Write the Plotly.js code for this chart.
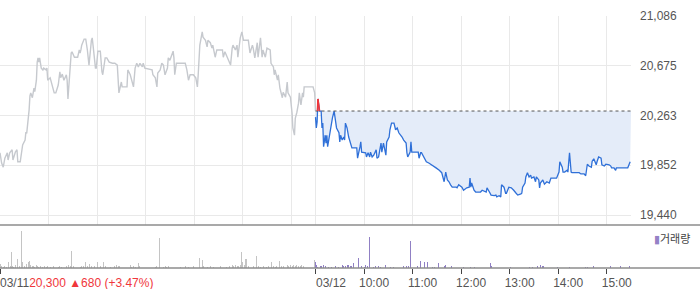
<!DOCTYPE html>
<html><head><meta charset="utf-8">
<script src="https://cdn.plot.ly/plotly-3.0.1.min.js"></script>
<style>html,body{margin:0;padding:0;background:#fff}#chart{width:700px;height:289px}</style>
</head><body><div id="chart"></div>
<script>
// ---- data ----
const prevClose = 20300;
const sessionMinutes = 390; // 09:00-15:30
const day1Min = [0,2,4,6,9,10,12,15,16,19,21,22,25,27,28,31,32,33,35,36,37,38,40,41,42,43,45,46,47,48,49,51,53,54,57,58,59,62,64,67,69,72,74,75,77,79,82,83,84,85,88,89,92,94,96,98,99,100,101,104,106,108,109,110,113,114,115,118,119,120,121,124,125,126,127,129,130,132,135,139,142,145,146,147,150,151,157,158,161,163,165,167,169,171,173,176,177,179,182,188,189,192,194,195,198,200,202,204,207,208,210,213,214,215,216,218,229,231,233,235,239,242,244,245,247,250,251,254,256,257,260,262,263,266,268,275,276,278,281,282,285,287,288,291,293,294,297,299,301,307,309,312,313,315,318,319,322,324,325,328,330,334,335,338,339,340,343,344,346,349,350,353,355,356,359,361,362,364,365,367,369,370,372,374,375,376,387,389,390];
const day1Price = [19955,19870,19835,19910,19955,19895,19955,19980,19895,19960,19980,19880,19880,19980,20020,20060,20125,20115,20225,20310,20425,20450,20410,20475,20490,20460,20555,20705,20740,20705,20740,20655,20640,20655,20640,20655,20555,20575,20515,20450,20450,20515,20625,20575,20605,20555,20600,20555,20400,20515,20780,20790,20745,20745,20745,20805,20780,20805,20845,20895,20895,20805,20695,20680,20885,20905,20845,20655,20655,20765,20795,20795,20695,20625,20600,20705,20740,20740,20705,20695,20695,20680,20555,20450,20540,20500,20500,20640,20600,20555,20500,20655,20695,20665,20695,20665,20695,20655,20650,20640,20600,20575,20500,20615,20640,20695,20680,20600,20655,20740,20720,20780,20795,20740,20600,20695,20695,20640,20555,20600,20600,20575,20500,20600,20845,20955,20910,20885,20830,20885,20865,20820,20845,20745,20805,20805,20745,20790,20740,20720,20680,20820,20845,20805,20845,20745,20905,20955,20885,20885,20780,20845,20820,20740,20865,20745,20905,20745,20805,20745,20820,20805,20695,20665,20600,20640,20555,20600,20490,20410,20455,20415,20540,20450,20415,20285,20160,20100,20240,20290,20365,20450,20350,20450,20415,20500,20500,20450,20300];
const day2Min = [0,1,2,3,5,7,8,9,10,12,13,14,15,18,19,20,21,23,25,26,29,30,31,33,35,36,37,39,41,44,45,51,52,55,56,57,60,62,63,65,67,68,70,72,75,76,78,81,82,84,87,88,91,92,94,97,99,101,103,106,107,109,112,113,114,117,118,119,123,124,127,128,130,131,134,137,140,144,149,153,156,159,161,163,165,167,169,174,175,177,181,183,187,190,191,192,193,196,198,204,206,211,212,215,217,221,223,224,227,229,230,233,235,236,239,242,243,245,248,250,254,255,256,259,260,262,264,266,267,270,272,273,276,277,278,281,283,286,289,291,293,297,298,301,302,305,306,308,311,312,314,316,317,326,328,332,334,336,338,341,342,344,347,348,350,353,354,357,359,363,365,366,369,371,372,375,386,389];
const day2Price = [20250,20160,20210,20400,20300,20300,20160,20200,20005,20100,20035,20100,20005,20145,20160,20200,20245,20300,20225,20160,20120,20045,20100,20060,20085,20060,20200,20160,20085,20005,19995,19995,19910,20005,20045,19960,19960,19955,19920,19955,19920,19960,19920,19935,19980,19910,19920,20035,19960,20035,19935,20045,20085,20145,20200,20200,20145,20160,20120,20100,20085,20060,20035,19955,19920,19960,20045,19960,19960,19955,19960,19910,19955,19955,19910,19880,19870,19855,19830,19810,19790,19715,19795,19730,19715,19690,19670,19670,19665,19690,19670,19645,19665,19670,19745,19670,19705,19645,19630,19630,19645,19630,19665,19630,19605,19600,19605,19590,19600,19590,19690,19670,19620,19620,19670,19665,19655,19645,19620,19605,19615,19620,19670,19705,19755,19790,19755,19770,19745,19755,19715,19755,19730,19665,19705,19730,19695,19715,19705,19745,19745,19740,19745,19795,19880,19835,19795,19795,19810,19795,19955,19795,19790,19790,19780,19780,19765,19860,19845,19835,19885,19905,19855,19880,19920,19910,19855,19845,19860,19855,19845,19830,19830,19810,19830,19830,19830,19880];
const vol1Min = [0,1,2,4,6,8,11,13,14,16,17,19,21,22,24,27,28,30,33,35,36,37,38,40,41,43,45,46,48,50,53,55,57,59,62,66,72,74,76,82,85,87,88,91,99,101,103,106,108,111,113,117,120,124,128,131,136,142,144,146,148,161,163,165,167,171,173,192,194,197,202,204,206,208,223,229,233,239,247,250,252,256,260,264,272,280,284,287,289,291,293,295,297,299,300,302,304,305,307,313,317,320,322,326,330,332,336,338,340,342,346,348,350,355,357,359,361,363,365,367,369,371,373,375,377,389];
const vol1 = [5.5,4,2,1.5,2,1.5,6,2,16,2, 1.5,3,2,9,2,36.7,6,2,4,6, 7,4,3,2.5,2,1.5,3,2,1.5,2, 1.5,2,1.5,2,1.5,2,1.5,2,1.5,2, 3,2,17.3,2,1.5,2.5,2,6,2,4, 2,2.5,5.7,2,5.7,2,1.5,2,3,2.5, 2,3.3,1.5,2,1.5,4.7,2,1.5,2,30, 1.5,2,1.5,2,1.5,2,1.5,2,9.7,8.3, 2,1.5,2,1.5,2,1.5,2.5,3,2,3.5, 2,2.5,3,15.7,6,3,9.3,9,2,2, 12.3,2,1.5,2,1.5,2,5.7,2,1.5,2, 7.3,2,2.5,3,2,3,2,3.5,2,3, 2.5,2,3,2,2.5,8.3];
const vol2Min = [0,1,2,6,8,10,12,16,20,25,29,33,35,37,39,41,43,45,47,53,57,60,62,64,67,72,74,78,80,87,93,97,109,112,115,118,123,126,130,135,139,145,147,152,159,161,168,183,192,196,212,216,218,241,264,268,274,278,280,282,299,314,334,336,344,365,377,388];
const vol2 = [5.7,3,1.5,2.3,2,3,2,1.5,1.5,2, 1.5,3.3,2.5,2,3,3.3,2.5,2,4.7,10.3, 2.3,1.5,3,2.3,31.3,1.5,2,2,1.5,3.3, 1.5,1.5,2,2,2,27.3,1.7,2.3,7.3,5.7, 6.3,1.5,1.5,4.7,2,3,2.3,1.5,1.5,1.5, 7.3,4.7,2,1.3,1.5,1.5,2,3.3,2.5,2, 1.5,1.5,1.5,1.5,2.3,2,2,2.3];
const yTicks = [19440, 19851.5, 20263, 20674.5, 21086];
const yTickText = ['19,440','19,852','20,263','20,675','21,086'];
const hourTicks = [450,510,570,630,690,750];
const hourLabels = ['10:00','11:00','12:00','13:00','14:00','15:00'];
const dayLabels = ['03/11','03/12'];
const headerText = '20,300 ▲680 (+3.47%)';
const volumeLabel = '거래량';

// ---- build ----
const x2 = day2Min.map(m => m + sessionMinutes);
const v2x = vol2Min.map(m => m + sessionMinutes);
const redX = [], redY = [];
for (let i = 1; i < x2.length; i++) {
  const a = day2Price[i-1], b = day2Price[i];
  if (a > prevClose || b > prevClose) {
    let xa = x2[i-1], ya = a, xb = x2[i], yb = b;
    if (a < prevClose) { xa = x2[i-1] + (x2[i]-x2[i-1])*(prevClose-a)/(b-a); ya = prevClose; }
    if (b < prevClose) { xb = x2[i-1] + (x2[i]-x2[i-1])*(a-prevClose)/(a-b); yb = prevClose; }
    redX.push(xa, xb, null); redY.push(ya, yb, null);
  }
}
const gridX = [0,60,120,180,240,300,360,390].concat(hourTicks);
const RED = '#f0373c';

const traces = [
  {x: day1Min, y: day1Price, type:'scatter', mode:'lines', line:{color:'#c6c9ce', width:1.4}, xaxis:'x', yaxis:'y'},
  {x: [sessionMinutes, 2*sessionMinutes], y:[prevClose, prevClose], type:'scatter', mode:'lines', line:{width:0, color:'rgba(0,0,0,0)'}, xaxis:'x', yaxis:'y'},
  {x: x2, y: day2Price, type:'scatter', mode:'lines', fill:'tonexty', fillcolor:'#e4ecf9', line:{color:'#2f70d8', width:1.3}, xaxis:'x', yaxis:'y'},
  {x: [sessionMinutes, 2*sessionMinutes], y:[prevClose, prevClose], type:'scatter', mode:'lines', line:{width:1, color:'#555', dash:'dot'}, xaxis:'x', yaxis:'y'},
  {x: redX, y: redY, type:'scatter', mode:'lines', line:{color:RED, width:1.6}, connectgaps:false, xaxis:'x', yaxis:'y'},
  {x: vol1Min, y: vol1, type:'bar', width:1.2, marker:{color:'#c4c4c4', line:{width:0}}, xaxis:'x2', yaxis:'y2'},
  {x: v2x, y: vol2, type:'bar', width:1.2, marker:{color:'#9080c4', line:{width:0}}, xaxis:'x2', yaxis:'y2'}
];

const H = 268; // plot-area height in px (t=0,b=21)
const layout = {
  width:700, height:289,
  margin:{l:0, r:69, t:0, b:21, pad:0},
  paper_bgcolor:'#fff', plot_bgcolor:'rgba(0,0,0,0)',
  showlegend:false, hovermode:false, bargap:0,
  font:{family:'Liberation Sans, Arial, sans-serif', size:12, color:'#555'},
  xaxis:{domain:[0,1], range:[0, 2*sessionMinutes], anchor:'y', tickvals:gridX, showticklabels:false,
         showgrid:true, gridcolor:'#e9e9e9', gridwidth:1, zeroline:false, showline:false, ticks:''},
  yaxis:{domain:[43/H, 252/H], range:[19357.4, 21086], anchor:'x', side:'right', tickvals:yTicks, ticktext:yTickText,
         showgrid:true, gridcolor:'#e9e9e9', zeroline:false, showline:false, ticks:'', ticklabelstandoff:8,
         tickfont:{size:12, color:'#555'}},
  xaxis2:{domain:[0,1], range:[0, 2*sessionMinutes], anchor:'y2', tickvals:[0, sessionMinutes].concat(hourTicks),
          ticktext:['',''].concat(hourLabels), ticks:'outside', ticklen:5, tickcolor:'#444', tickwidth:1,
          showgrid:false, zeroline:false, showline:false, ticklabelshift:10, ticklabelstandoff:-1,
          tickfont:{size:12, color:'#555'}},
  yaxis2:{domain:[0, 40/H], range:[0, 40], anchor:'x2', visible:false, fixedrange:true},
  shapes:[
    {type:'line', xref:'paper', yref:'paper', x0:0, x1:700/631, y0:43/H, y1:43/H, line:{color:'#8c8c8c', width:1.5}},
    {type:'line', xref:'paper', yref:'paper', x0:0, x1:700/631, y0:0, y1:0, line:{color:'#8c8c8c', width:1.5}}
  ],
  annotations:[
    {xref:'x2', yref:'paper', x:0, y:0, yshift:-15, xshift:-2, xanchor:'left', yanchor:'middle', showarrow:false,
     text: dayLabels[0] + '<span style="color:'+RED+'">' + headerText + '</span>', font:{size:12, color:'#555'}},
    {xref:'x2', yref:'paper', x:sessionMinutes, y:0, yshift:-15, xshift:-2, xanchor:'left', yanchor:'middle', showarrow:false,
     text: dayLabels[1], font:{size:12, color:'#555'}},
    {xref:'paper', yref:'paper', x:652/631, y:(268-238)/H, xanchor:'left', yanchor:'middle', showarrow:false,
     text:'<span style="color:#9482c6">▮</span>' + volumeLabel, font:{family:'Noto Sans CJK KR, sans-serif', size:11, color:'#444'}}
  ]
};
Plotly.newPlot('chart', traces, layout, {staticPlot:true, displayModeBar:false});
</script>
</body></html>
